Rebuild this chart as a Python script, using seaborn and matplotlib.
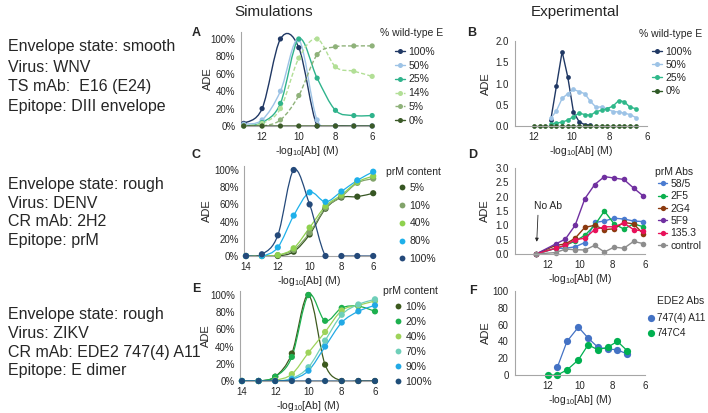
import matplotlib
matplotlib.use("Agg")
import matplotlib.pyplot as plt
from matplotlib.path import Path
from matplotlib.patches import PathPatch
from matplotlib.lines import Line2D
from matplotlib.ticker import PercentFormatter, FormatStrFormatter
import numpy as np
import pandas as pd
import seaborn as sns

nan = np.nan

# ---- A: simulations, WNV (smooth), % wild-type E ----
a_x = [13, 12, 11, 10, 9, 8, 7, 6]
a_names = ["100%", "50%", "25%", "14%", "5%", "0%"]
a_wt100 = [0.03, 0.20, 1.00, 0.90, 0.00, 0.00, 0.00, 0.00]
a_wt50 = [0.02, 0.07, 0.40, 0.99, 0.07, 0.00, 0.00, 0.00]
a_wt25 = [0.00, 0.04, 0.26, 1.00, 0.55, 0.18, 0.12, 0.12]
a_wt14 = [0.00, 0.03, 0.20, 0.78, 1.00, 0.68, 0.63, 0.57]
a_wt5 = [0.00, 0.00, 0.07, 0.35, 0.82, 0.91, 0.92, 0.92]
a_wt0 = [0.00, 0.00, 0.00, 0.00, 0.00, 0.00, 0.00, 0.00]

# ---- B: experimental, WNV ----
b_x = [12.0, 11.7, 11.4, 11.1, 10.8, 10.5, 10.2, 9.9, 9.6, 9.3,
       9.0, 8.7, 8.4, 8.1, 7.8, 7.5, 7.2, 6.9, 6.6]
b_names = ["100%", "50%", "25%", "0%"]
b_wt100 = [nan, nan, nan, 0.15, 0.95, 1.75, 1.15, 0.33, 0.10, 0.03,
           0.02, nan, nan, nan, nan, nan, nan, nan, nan]
b_wt50 = [nan, nan, nan, 0.18, 0.36, 0.65, 0.76, 0.86, 0.81, 0.76,
          0.58, 0.44, 0.45, 0.40, 0.34, 0.33, 0.30, 0.27, 0.20]
b_wt25 = [nan, nan, nan, 0.05, 0.07, 0.09, 0.14, 0.22, 0.30, 0.27,
          0.25, 0.34, 0.37, 0.41, 0.47, 0.60, 0.57, 0.44, 0.41]
b_wt0 = [0.0, 0.0, 0.0, 0.0, 0.0, 0.0, 0.0, 0.0, 0.0, 0.0,
         0.0, 0.0, 0.0, 0.0, 0.0, 0.0, 0.0, 0.0, 0.0]

# ---- C: simulations, DENV (rough), prM content ----
c_x = [14, 13, 12, 11, 10, 9, 8, 7, 6]
c_names = ["5%", "10%", "40%", "80%", "100%"]
c_p5 = [0.00, 0.00, 0.00, 0.05, 0.25, 0.55, 0.68, 0.69, 0.73]
c_p10 = [0.00, 0.00, 0.01, 0.07, 0.27, 0.56, 0.69, 0.85, 0.90]
c_p40 = [0.00, 0.00, 0.01, 0.09, 0.33, 0.58, 0.71, 0.86, 0.93]
c_p80 = [0.00, 0.00, 0.10, 0.47, 0.74, 0.63, 0.75, 0.88, 0.98]
c_p100 = [0.00, 0.02, 0.24, 1.00, 0.60, 0.00, 0.00, 0.00, 0.00]

# ---- D: experimental, DENV, prM Abs ----
d_x = [12.7, 11.5, 10.9, 10.3, 9.7, 9.1, 8.5, 7.9, 7.3, 6.7, 6.1]
d_names = ["58/5", "2F5", "2G4", "5F9", "135.3", "control"]
d_585 = [0.0, 0.20, 0.20, 0.25, 0.40, 1.10, 1.15, 1.25, 1.22, 1.15, 1.13]
d_2f5 = [0.0, 0.20, 0.30, 0.45, 0.65, 1.00, 1.50, 1.05, 0.87, 1.05, 0.95]
d_2g4 = [0.0, 0.30, 0.35, 0.55, 0.93, 1.00, 0.85, 0.88, 1.10, 1.05, 0.70]
d_5f9 = [0.0, 0.35, 0.52, 1.00, 1.93, 2.42, 2.70, 2.65, 2.60, 2.30, 2.02]
d_135 = [0.0, 0.20, 0.30, 0.50, 0.55, 0.85, 0.95, 0.95, 1.08, 0.85, 0.80]
d_ctrl = [0.0, 0.05, 0.17, 0.15, 0.14, 0.30, 0.07, 0.24, 0.20, 0.44, 0.36]

# ---- E: simulations, ZIKV (rough), prM content ----
e_x = [14, 13, 12, 11, 10, 9, 8, 7, 6]
e_names = ["10%", "20%", "40%", "70%", "90%", "100%"]
e_p10 = [0.00, 0.00, 0.05, 0.32, 1.00, 0.19, 0.00, 0.00, 0.00]
e_p20 = [0.00, 0.00, 0.05, 0.28, 1.00, 0.70, 0.85, 0.87, 0.81]
e_p40 = [0.00, 0.00, 0.01, 0.08, 0.33, 0.57, 0.82, 0.88, 0.93]
e_p70 = [0.00, 0.00, 0.00, 0.03, 0.16, 0.47, 0.77, 0.89, 0.95]
e_p90 = [0.00, 0.00, 0.00, 0.02, 0.12, 0.40, 0.68, 0.81, 0.88]
e_p100 = [0.00, 0.00, 0.00, 0.00, 0.00, 0.00, 0.00, 0.00, 0.00]

# ---- F: experimental, ZIKV, EDE2 Abs ----
f_x = [12.0, 11.4, 10.8, 10.1, 9.5, 8.9, 8.3, 7.7, 7.1]
f_names = ["747(4) A11", "747C4"]
f_a11 = [nan, 9, 40, 57, 44, 33, 31, 30, 25]
f_c4 = [0, 0, 6, 18, 36, 30, 33, 40, 29]

# colours
a_cols = ["#203864", "#9dc3e6", "#2fb38c", "#b2df96", "#8fb27a", "#3b5a28"]
b_cols = ["#203864", "#9dc3e6", "#2fb88a", "#2f5a26"]
c_cols = ["#375623", "#82a36a", "#8fd14f", "#1eb0ea", "#24497a"]
d_cols = ["#4a7bd0", "#0cb04e", "#8b3a0f", "#7030a0", "#e8115a", "#8d8d8d"]
e_cols = ["#3d5a1e", "#1db04f", "#9ed35a", "#6fcfb9", "#22a9e5", "#1f4e79"]
f_cols = ["#4472c4", "#00b050"]

AXIS_GRAY = "#a6a6a6"
TEXT = "#262626"
XLABEL = r"-log$_{\mathregular{10}}$[Ab] (M)"

sns.set_style("white")
plt.rcParams["font.family"] = ["Liberation Sans", "DejaVu Sans"]

W, H = 708, 413
fig = plt.figure(figsize=(W / 100, H / 100), dpi=100)


def long_df(x, names, cols):
    parts = [pd.DataFrame({"x": x, "y": c, "series": n}) for n, c in zip(names, cols)]
    return pd.concat(parts, ignore_index=True).dropna()


def add_axes_px(left, top, right, bottom):
    return fig.add_axes([left / W, 1 - bottom / H, (right - left) / W, (bottom - top) / H])


def style_axes(ax, xlim, ylim, xticks, yticks, yfmt, tick_len, label_cx):
    ax.set_xlim(xlim)
    ax.set_ylim(ylim)
    ax.set_xticks(xticks)
    ax.set_yticks(yticks)
    ax.xaxis.set_major_formatter(FormatStrFormatter("%d"))
    ax.yaxis.set_major_formatter(yfmt)
    sns.despine(ax=ax)
    for side in ("left", "bottom"):
        ax.spines[side].set_color(AXIS_GRAY)
        ax.spines[side].set_linewidth(0.8)
    pad = 4 if tick_len == 0 else 2
    ax.tick_params(axis="both", labelsize=7, color=AXIS_GRAY, labelcolor=TEXT,
                   length=tick_len, width=0.6, pad=pad)
    ax.set_xlabel(XLABEL, fontsize=7.5, color=TEXT, labelpad=1.5)
    ax.set_ylabel("ADE", fontsize=8, color=TEXT)
    bb = ax.get_position()
    left_px, width_px = bb.x0 * W, bb.width * W
    ax.yaxis.set_label_coords((label_cx + 6.3 - left_px) / width_px, 0.5)
    ax.patch.set_alpha(0)


def smooth_path(xs, ys):
    # Excel-style smoothed line: cubic Bezier segments through the data points
    pts = np.column_stack([np.asarray(xs, float), np.asarray(ys, float)])
    n = len(pts)
    verts, codes = [pts[0]], [Path.MOVETO]
    for i in range(n - 1):
        p0, p1 = pts[max(i - 1, 0)], pts[i]
        p2, p3 = pts[i + 1], pts[min(i + 2, n - 1)]
        verts += [p1 + (p2 - p0) / 6, p2 - (p3 - p1) / 6, p2]
        codes += [Path.CURVE4] * 3
    return Path(verts, codes)


def smooth_panel(ax, df, names, colors, dashed=(), s=14, lw=1.0):
    for name, col in zip(names, colors):
        sub = df[df["series"] == name]
        ls = (0, (3, 1.6)) if name in dashed else "-"
        ax.add_patch(PathPatch(smooth_path(sub["x"], sub["y"]), facecolor="none",
                               edgecolor=col, lw=lw, ls=ls, zorder=2))
    sns.scatterplot(data=df, x="x", y="y", hue="series", hue_order=names,
                    palette=colors, s=s, edgecolor="none", legend=False,
                    ax=ax, zorder=3, clip_on=False)


def line_panel(ax, df, names, colors, ms=4, lw=1.0):
    sns.lineplot(data=df, x="x", y="y", hue="series", hue_order=names,
                 palette=colors, estimator=None, errorbar=None, sort=False,
                 marker="o", markersize=ms, markeredgewidth=0, lw=lw,
                 legend=False, ax=ax, clip_on=False)


def add_legend(names, colors, left, first_row, spacing, hl, ms, with_line,
               dashed=(), fs=7.5, tpad=0.3):
    handles = [Line2D([], [], color=c, marker="o", markersize=ms, mew=0,
                      lw=1.0 if with_line else 0,
                      ls=((0, (2, 1)) if n in dashed else "-") if with_line else "none")
               for n, c in zip(names, colors)]
    fpx = fs * 100 / 72
    fig.legend(handles, names, loc="upper left",
               bbox_to_anchor=(left / W, 1 - (first_row - 0.49 * fpx) / H),
               frameon=False, fontsize=fs, handlelength=hl, handletextpad=tpad,
               labelspacing=(spacing - 0.98 * fpx) / fpx, borderpad=0,
               borderaxespad=0, labelcolor=TEXT)


def ftext(x, y, s, **kw):
    fig.text(x / W, 1 - y / H, s, color=TEXT, **kw)


pct = PercentFormatter(1.0, decimals=0)

# ---- panel A ----
axA = add_axes_px(241, 32, 374, 126)
style_axes(axA, (13.15, 5.9), (0, 1.08), [12, 10, 8, 6], [0, .2, .4, .6, .8, 1.0], pct, 0, 207)
dfA = long_df(a_x, a_names, [a_wt100, a_wt50, a_wt25, a_wt14, a_wt5, a_wt0])
smooth_panel(axA, dfA, a_names, a_cols, dashed=("14%", "5%"), s=14)
add_legend(a_names, a_cols, 395, 52, 14, 1.0, 3.6, True, dashed=("14%", "5%"))
ftext(380, 33, "% wild-type E", fontsize=7.5, va="center")

# ---- panel B ----
axB = add_axes_px(515, 41, 647, 126)
style_axes(axB, (13, 6), (0, 2.0), [12, 10, 8, 6], [0, .5, 1, 1.5, 2],
           FormatStrFormatter("%.1f"), 2.5, 485)
dfB = long_df(b_x, b_names, [b_wt100, b_wt50, b_wt25, b_wt0])
line_panel(axB, dfB, b_names, b_cols, ms=3.4, lw=1.0)
add_legend(b_names, b_cols, 652, 52, 13.3, 1.0, 3.6, True)
ftext(639, 34, "% wild-type E", fontsize=7.5, va="center")

# ---- panel C ----
axC = add_axes_px(244.4, 165.7, 374, 256)
style_axes(axC, (14.1, 5.95), (0, 1.05), [14, 12, 10, 8, 6], [0, .2, .4, .6, .8, 1.0], pct, 0, 206)
dfC = long_df(c_x, c_names, [c_p5, c_p10, c_p40, c_p80, c_p100])
smooth_panel(axC, dfC, c_names, c_cols, s=20, lw=0.9)
add_legend(c_names, c_cols, 398, 188, 18, 0.8, 4.2, False)
ftext(386, 172, "prM content", fontsize=7.5, va="center")

# ---- panel D ----
axD = add_axes_px(515, 168, 645, 254)
style_axes(axD, (14, 6), (0, 3.0), [12, 10, 8, 6], [0, .5, 1, 1.5, 2, 2.5, 3],
           FormatStrFormatter("%.1f"), 2.5, 484)
dfD = long_df(d_x, d_names, [d_585, d_2f5, d_2g4, d_5f9, d_135, d_ctrl])
line_panel(axD, dfD, d_names, d_cols, ms=4, lw=1.0)
axD.annotate("", xy=(12.67, 0.33), xytext=(12.58, 1.45),
             arrowprops=dict(arrowstyle="-|>", lw=0.6, color=TEXT, mutation_scale=5))
axD.text(11.97, 1.67, "No Ab", fontsize=7.5, ha="center", va="center", color=TEXT)
add_legend(d_names, d_cols, 658, 184, 12.6, 0.9, 3.8, True)
ftext(655, 172, "prM Abs", fontsize=7.5, va="center")

# ---- panel E ----
axE = add_axes_px(240.3, 290.7, 375.8, 381)
style_axes(axE, (14.1, 5.95), (0, 1.05), [14, 12, 10, 8, 6], [0, .2, .4, .6, .8, 1.0], pct, 0, 205)
dfE = long_df(e_x, e_names, [e_p10, e_p20, e_p40, e_p70, e_p90, e_p100])
smooth_panel(axE, dfE, e_names, e_cols, s=20, lw=0.9)
add_legend(e_names, e_cols, 394, 307, 15.2, 0.8, 4.2, False)
ftext(383, 291, "prM content", fontsize=7.5, va="center")

# ---- panel F ----
axF = add_axes_px(515, 291, 645, 375)
style_axes(axF, (14, 6), (0, 100), [12, 10, 8, 6], [0, 20, 40, 60, 80, 100],
           FormatStrFormatter("%d"), 2.5, 485)
dfF = long_df(f_x, f_names, [f_a11, f_c4])
line_panel(axF, dfF, f_names, f_cols, ms=5.2, lw=0.9)
add_legend(f_names, f_cols, 646, 318, 15, 0.9, 5.2, False, fs=7.2, tpad=0.2)
ftext(657, 301, "EDE2 Abs", fontsize=7.5, va="center")

# ---- headers, panel letters, row descriptions ----
ftext(274, 12, "Simulations", fontsize=11, ha="center", va="center")
ftext(575, 12, "Experimental", fontsize=11, ha="center", va="center")
for letter, (lx, ly) in zip("ABCDEF", [(196, 33), (472, 33), (196, 155),
                                       (473, 155), (196, 289), (473, 291)]):
    ftext(lx, ly, letter, fontsize=9, fontweight="bold", ha="center", va="center")

rows = [
    ([47, 67, 86, 106], ["Envelope state: smooth", "Virus: WNV",
                         "TS mAb:  E16 (E24)", "Epitope: DIII envelope"]),
    ([185, 203.5, 222, 240.5], ["Envelope state: rough", "Virus: DENV",
                                "CR mAb: 2H2", "Epitope: prM"]),
    ([314, 333, 352, 370], ["Envelope state: rough", "Virus: ZIKV",
                            "CR mAb: EDE2 747(4) A11", "Epitope: E dimer"]),
]
for ys, lines in rows:
    for y, s in zip(ys, lines):
        ftext(8, y, s, fontsize=11.5, ha="left", va="center")

fig.savefig("out.png", dpi=100)
